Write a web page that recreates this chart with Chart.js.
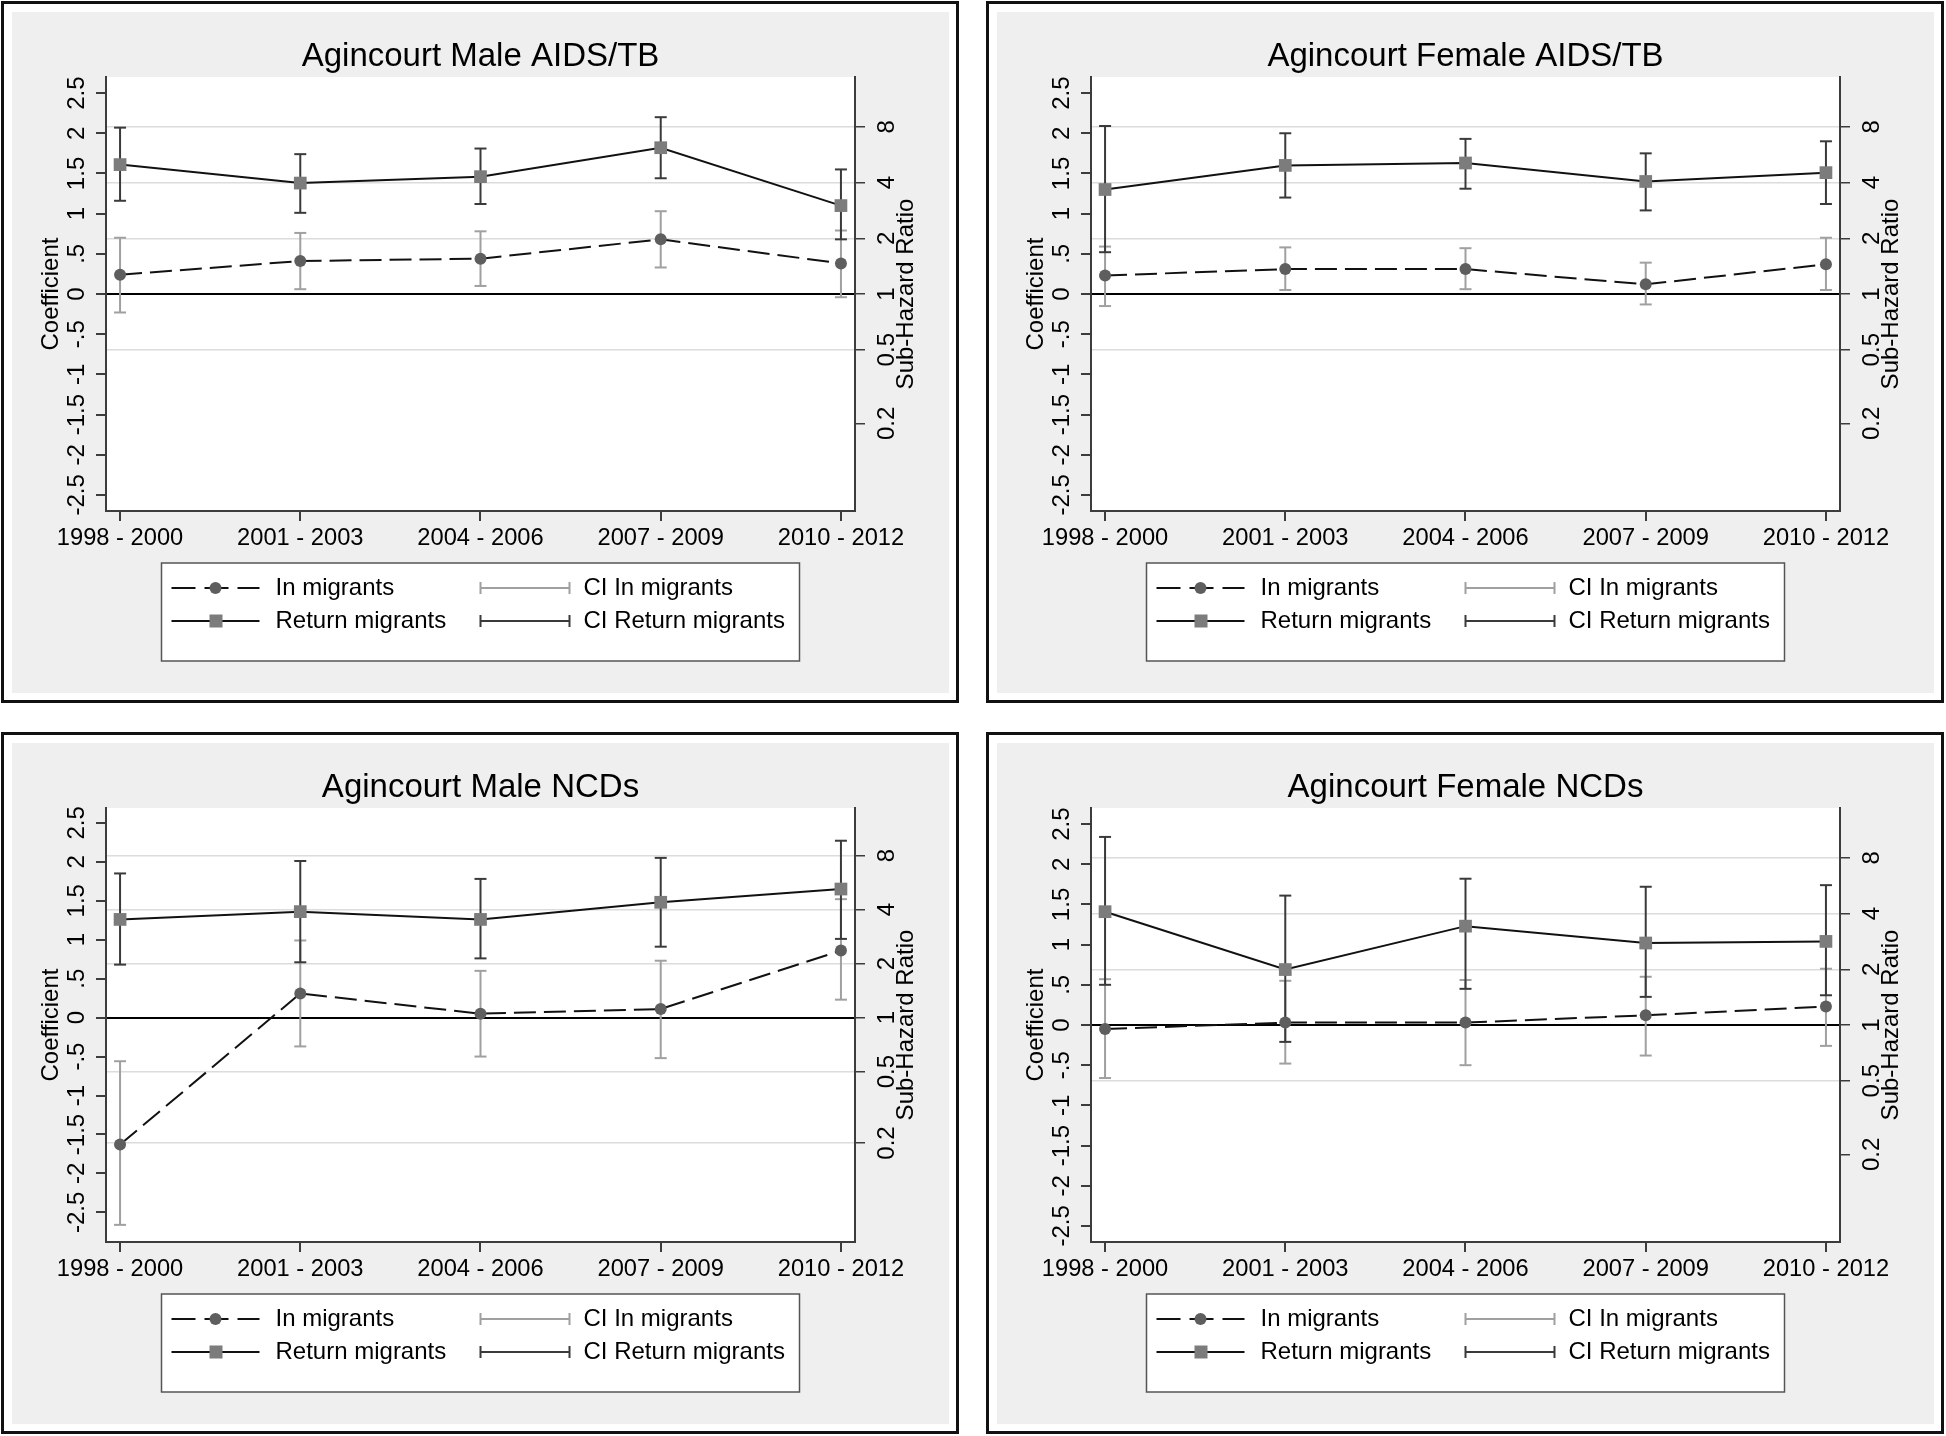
<!DOCTYPE html>
<html>
<head>
<meta charset="utf-8">
<script src="https://cdn.jsdelivr.net/npm/chart.js@4.4.0/dist/chart.umd.min.js"></script>
<style>
  body { margin: 0; background: #fff; width: 1946px; height: 1436px; position: relative; overflow: hidden; }
  .frame { position: absolute; box-sizing: border-box; width: 958px; height: 702px; border: 3px solid #111; }
  .back { position: absolute; width: 937px; height: 681px; background: #efefef; }
  canvas { position: absolute; }
</style>
</head>
<body>
<script>
const periods = ["1998 - 2000", "2001 - 2003", "2004 - 2006", "2007 - 2009", "2010 - 2012"];
const coefTicks = [-2.5, -2, -1.5, -1, -0.5, 0, 0.5, 1, 1.5, 2, 2.5];
const coefLabels = ["-2.5", "-2", "-1.5", "-1", "-.5", "0", ".5", "1", "1.5", "2", "2.5"];
const hazardTicks = [0.2, 0.5, 1, 2, 4, 8];
const hazardLabels = ["0.2", "0.5", "1", "2", "4", "8"];

// Male AIDS/TB
const maleAidsIn = [0.24, 0.41, 0.44, 0.68, 0.38];
const maleAidsInLo = [-0.23, 0.06, 0.10, 0.33, -0.04];
const maleAidsInHi = [0.70, 0.76, 0.78, 1.03, 0.79];
const maleAidsRet = [1.61, 1.38, 1.46, 1.82, 1.10];
const maleAidsRetLo = [1.16, 1.01, 1.12, 1.44, 0.68];
const maleAidsRetHi = [2.07, 1.74, 1.81, 2.20, 1.55];

// Female AIDS/TB
const femAidsIn = [0.23, 0.31, 0.31, 0.12, 0.37];
const femAidsInLo = [-0.15, 0.05, 0.06, -0.13, 0.05];
const femAidsInHi = [0.59, 0.58, 0.57, 0.39, 0.70];
const femAidsRet = [1.30, 1.60, 1.63, 1.40, 1.51];
const femAidsRetLo = [0.52, 1.20, 1.31, 1.04, 1.12];
const femAidsRetHi = [2.09, 2.00, 1.93, 1.75, 1.90];

// Male NCDs
const maleNcdIn = [-1.63, 0.31, 0.05, 0.11, 0.86];
const maleNcdInLo = [-2.66, -0.37, -0.50, -0.52, 0.23];
const maleNcdInHi = [-0.56, 0.99, 0.60, 0.73, 1.52];
const maleNcdRet = [1.26, 1.36, 1.26, 1.48, 1.65];
const maleNcdRetLo = [0.68, 0.71, 0.76, 0.91, 1.01];
const maleNcdRetHi = [1.85, 2.01, 1.78, 2.05, 2.27];

// Female NCDs
const femNcdIn = [-0.05, 0.03, 0.03, 0.12, 0.23];
const femNcdInLo = [-0.66, -0.48, -0.50, -0.38, -0.26];
const femNcdInHi = [0.57, 0.55, 0.56, 0.60, 0.70];
const femNcdRet = [1.41, 0.69, 1.23, 1.02, 1.04];
const femNcdRetLo = [0.50, -0.21, 0.45, 0.35, 0.37];
const femNcdRetHi = [2.34, 1.61, 1.82, 1.72, 1.74];

const panels = [
  { title: "Agincourt Male AIDS/TB", col: 0, row: 0, grid02: false, yMin: -2.7, yMax: 2.7,
    inMig: maleAidsIn, inLo: maleAidsInLo, inHi: maleAidsInHi,
    ret: maleAidsRet, retLo: maleAidsRetLo, retHi: maleAidsRetHi },
  { title: "Agincourt Female AIDS/TB", col: 1, row: 0, grid02: false, yMin: -2.7, yMax: 2.7,
    inMig: femAidsIn, inLo: femAidsInLo, inHi: femAidsInHi,
    ret: femAidsRet, retLo: femAidsRetLo, retHi: femAidsRetHi },
  { title: "Agincourt Male NCDs", col: 0, row: 1, grid02: true, yMin: -2.88, yMax: 2.69,
    inMig: maleNcdIn, inLo: maleNcdInLo, inHi: maleNcdInHi,
    ret: maleNcdRet, retLo: maleNcdRetLo, retHi: maleNcdRetHi },
  { title: "Agincourt Female NCDs", col: 1, row: 1, grid02: false, yMin: -2.7, yMax: 2.7,
    inMig: femNcdIn, inLo: femNcdInLo, inHi: femNcdInHi,
    ret: femNcdRet, retLo: femNcdRetLo, retHi: femNcdRetHi }
];

const FONT = "'Liberation Sans', Arial, sans-serif";
const axisColor = "#3c3c3c";
const ciInColor = "#a0a0a0";
const ciRetColor = "#3a3a3a";

function series(values) {
  return values.map((v, i) => ({ x: i, y: v }));
}

// each interval is two points and a gap, caps come from the 'line' point style
function ciPoints(lo, hi) {
  const pts = [];
  lo.forEach((v, i) => {
    pts.push({ x: i, y: v }, { x: i, y: hi[i] }, { x: i, y: null });
  });
  return pts;
}

const plotBackground = {
  id: "plotBackground",
  beforeDraw(chart) {
    const a = chart.chartArea;
    chart.ctx.save();
    chart.ctx.fillStyle = "#fff";
    chart.ctx.fillRect(a.left, a.top, a.right - a.left, a.bottom - a.top);
    chart.ctx.restore();
  }
};

function rotatedText(ctx, text, x, y) {
  ctx.save();
  ctx.translate(x, y);
  ctx.rotate(-Math.PI / 2);
  ctx.fillText(text, 0, 0);
  ctx.restore();
}

function drawLegend(chart) {
  const ctx = chart.ctx;
  const a = chart.chartArea;
  const w = 638, h = 98;
  const left = (a.left + a.right) / 2 - w / 2;
  const top = a.bottom + 52;
  const r1 = top + 25, r2 = top + 58;

  ctx.fillStyle = "#fff";
  ctx.fillRect(left, top, w, h);
  ctx.strokeStyle = "#555";
  ctx.lineWidth = 1.5;
  ctx.strokeRect(left, top, w, h);

  // In migrants: dashed line + circle
  ctx.strokeStyle = "#111";
  ctx.lineWidth = 2;
  ctx.setLineDash([24, 9]);
  ctx.beginPath(); ctx.moveTo(left + 10, r1); ctx.lineTo(left + 98, r1); ctx.stroke();
  ctx.setLineDash([]);
  ctx.fillStyle = "#5e5e5e";
  ctx.beginPath(); ctx.arc(left + 54, r1, 6, 0, Math.PI * 2); ctx.fill();

  // Return migrants: solid line + square
  ctx.strokeStyle = "#111";
  ctx.beginPath(); ctx.moveTo(left + 10, r2); ctx.lineTo(left + 98, r2); ctx.stroke();
  ctx.fillStyle = "#7c7c7c";
  ctx.fillRect(left + 48, r2 - 6.5, 13, 13);

  // CI symbols
  [[r1, ciInColor], [r2, ciRetColor]].forEach(([y, c]) => {
    ctx.strokeStyle = c;
    ctx.lineWidth = 2;
    ctx.beginPath();
    ctx.moveTo(left + 319, y); ctx.lineTo(left + 408, y);
    ctx.moveTo(left + 319, y - 6); ctx.lineTo(left + 319, y + 6);
    ctx.moveTo(left + 408, y - 6); ctx.lineTo(left + 408, y + 6);
    ctx.stroke();
  });

  ctx.fillStyle = "#000";
  ctx.font = "24px " + FONT;
  ctx.textAlign = "left";
  ctx.textBaseline = "middle";
  ctx.fillText("In migrants", left + 114, r1);
  ctx.fillText("Return migrants", left + 114, r2);
  ctx.fillText("CI In migrants", left + 422, r1);
  ctx.fillText("CI Return migrants", left + 422, r2);
}

const axisText = {
  id: "axisText",
  afterDraw(chart) {
    const ctx = chart.ctx;
    const a = chart.chartArea;
    const yl = chart.scales.y;
    const yr = chart.scales.y2;
    ctx.save();
    ctx.fillStyle = "#000";
    ctx.font = "24px " + FONT;
    ctx.textAlign = "center";
    ctx.textBaseline = "middle";
    coefTicks.forEach((v, i) => {
      rotatedText(ctx, coefLabels[i], a.left - 29, yl.getPixelForValue(v));
    });
    hazardTicks.forEach((v, i) => {
      rotatedText(ctx, hazardLabels[i], a.right + 32, yr.getPixelForValue(Math.log(v)));
    });
    const mid = (a.top + a.bottom) / 2;
    rotatedText(ctx, "Coefficient", a.left - 55, mid);
    rotatedText(ctx, "Sub-Hazard Ratio", a.right + 51, mid);
    drawLegend(chart);
    ctx.restore();
  }
};

function makeChart(canvas, p) {
  return new Chart(canvas, {
    type: "line",
    data: {
      datasets: [
        {
          label: "CI In migrants",
          data: ciPoints(p.inLo, p.inHi),
          borderColor: ciInColor, borderWidth: 2, spanGaps: false,
          pointStyle: "line", pointRadius: 6, pointBorderColor: ciInColor, pointBorderWidth: 2,
          order: 4
        },
        {
          label: "CI Return migrants",
          data: ciPoints(p.retLo, p.retHi),
          borderColor: ciRetColor, borderWidth: 2, spanGaps: false,
          pointStyle: "line", pointRadius: 6, pointBorderColor: ciRetColor, pointBorderWidth: 2,
          order: 3
        },
        {
          label: "In migrants",
          data: series(p.inMig),
          borderColor: "#111", borderWidth: 2, borderDash: [22, 8],
          pointStyle: "circle", pointRadius: 6,
          pointBackgroundColor: "#5e5e5e", pointBorderColor: "#5e5e5e", pointBorderWidth: 0,
          order: 2
        },
        {
          label: "Return migrants",
          data: series(p.ret),
          borderColor: "#111", borderWidth: 2,
          pointStyle: "rect", pointRadius: 9,
          pointBackgroundColor: "#7c7c7c", pointBorderColor: "#7c7c7c", pointBorderWidth: 0,
          order: 1
        }
      ]
    },
    options: {
      responsive: false,
      animation: false,
      events: [],
      layout: { padding: 0 },
      plugins: {
        legend: { display: false },
        tooltip: { enabled: false },
        title: {
          display: true,
          text: p.title,
          color: "#000",
          font: { family: FONT, size: 33, weight: "normal", lineHeight: 1.2 },
          padding: { top: 25.4, bottom: 0 }
        }
      },
      scales: {
        x: {
          type: "linear",
          min: -0.078,
          max: 4.078,
          afterBuildTicks: s => { s.ticks = periods.map((_, i) => ({ value: i })); },
          afterFit: s => { s.height = 182; },
          ticks: {
            callback: v => periods[v],
            color: "#000",
            font: { family: FONT, size: 23.7 },
            padding: 3,
            maxRotation: 0,
            autoSkip: false
          },
          grid: { drawOnChartArea: false, tickLength: 10, color: axisColor, lineWidth: 2 },
          border: { color: axisColor, width: 2 }
        },
        y: {
          position: "left",
          min: p.yMin,
          max: p.yMax,
          afterBuildTicks: s => { s.ticks = coefTicks.map(v => ({ value: v })); },
          afterFit: s => { s.width = 94; },
          ticks: { display: false },
          grid: {
            color: c => (c.tick && c.tick.value === 0 ? "#000" : "rgba(0,0,0,0)"),
            tickColor: axisColor,
            tickLength: 10,
            lineWidth: 2
          },
          border: { color: axisColor, width: 2 }
        },
        y2: {
          position: "right",
          min: p.yMin,
          max: p.yMax,
          afterBuildTicks: s => { s.ticks = hazardTicks.map(v => ({ value: Math.log(v) })); },
          afterFit: s => { s.width = 94; },
          ticks: { display: false },
          grid: {
            color: c => {
              if (!c.tick || c.tick.value === 0) return "rgba(0,0,0,0)";
              if (!p.grid02 && Math.abs(c.tick.value - Math.log(0.2)) < 1e-6) return "rgba(0,0,0,0)";
              return "#dcdcdc";
            },
            tickColor: axisColor,
            tickLength: 10,
            lineWidth: 1.5
          },
          border: { color: axisColor, width: 2 }
        }
      }
    },
    plugins: [plotBackground, axisText]
  });
}

panels.forEach(p => {
  const dx = p.col * 985, dy = p.row * 731;
  const frame = document.createElement("div");
  frame.className = "frame";
  frame.style.left = (1 + dx) + "px";
  frame.style.top = (1 + dy) + "px";
  document.body.appendChild(frame);

  const back = document.createElement("div");
  back.className = "back";
  back.style.left = (12 + dx) + "px";
  back.style.top = (12 + dy) + "px";
  document.body.appendChild(back);

  const canvas = document.createElement("canvas");
  canvas.width = 937;
  canvas.height = 681;
  canvas.style.left = (12 + dx) + "px";
  canvas.style.top = (12 + dy) + "px";
  document.body.appendChild(canvas);
  makeChart(canvas, p);
});
</script>
</body>
</html>
